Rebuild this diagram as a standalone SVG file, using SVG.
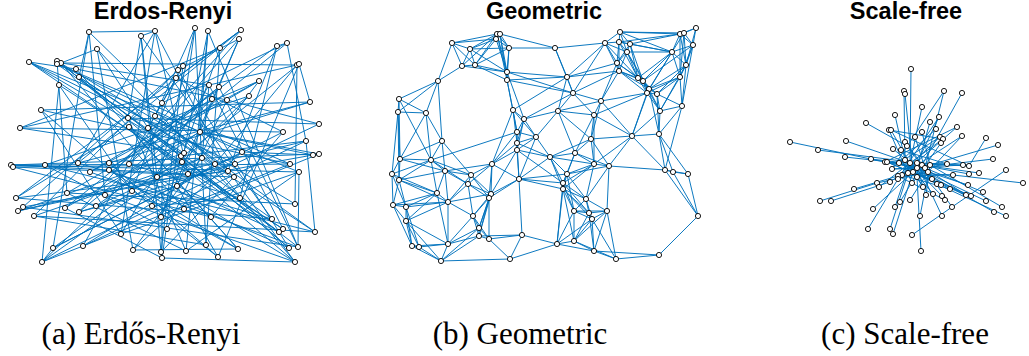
<svg xmlns="http://www.w3.org/2000/svg" width="1029" height="356" viewBox="0 0 1029 356">
<style>
.e{fill:none;stroke:#0072BD;stroke-width:0.95;stroke-linecap:round}
.n circle{fill:#fff;stroke:#000;stroke-width:0.9}
.t{font-family:"Liberation Sans",Arial,sans-serif;font-weight:bold;font-size:23.5px;text-anchor:middle;fill:#000}
.c{font-family:"Liberation Serif","Times New Roman",serif;font-size:31px;text-anchor:middle;fill:#000}
</style>
<rect width="1029" height="356" fill="#fff"/>
<g id="titles">
<text class="t" x="163" y="19">Erdos-Renyi</text>
<text class="t" x="544" y="19">Geometric</text>
<text class="t" x="906" y="19">Scale-free</text>
</g>
<g id="captions">
<text class="c" x="141" y="344">(a) Erdős-Renyi</text>
<text class="c" x="520" y="344">(b) Geometric</text>
<text class="c" x="905" y="344">(c) Scale-free</text>
</g>
<g id="connectors">
<path id="er-edges" class="e" d="M89 32L53 248M89 32L79 77M89 32L162 103M89 32L105 195M97 49L133 250M97 49L148 128M97 49L61 63M141 36L155 31M141 36L128 118M141 36L157 177M141 36L161 252M155 31L89 32M155 31L188 174M155 31L121 234M155 31L78 163M195 28L155 116M195 28L162 258M195 28L152 206M208 31L186 251M208 31L182 162M208 31L200 132M241 30L176 78M241 30L79 212M241 30L78 163M239 39L129 164M239 39L177 186M239 39L178 70M220 48L206 245M220 48L161 217M220 48L20 128M277 46L287 43M277 46L240 198M277 46L228 171M287 43L306 141M287 43L162 103M29 62L184 153M29 62L76 69M29 62L299 172M29 62L235 164M57 61L298 247M57 61L295 204M57 61L279 232M61 63L295 262M61 63L297 65M61 63L209 85M57 64L272 219M57 64L290 164M57 64L242 152M76 69L238 249M76 69L227 100M79 77L315 232M79 77L234 177M59 85L132 191M59 85L42 262M178 70L289 248M178 70L34 216M183 66L23 207M183 66L148 128M176 78L283 132M176 78L83 246M209 85L121 234M209 85L283 229M219 87L65 208M219 87L298 247M212 99L42 262M212 99L90 172M227 100L319 124M227 100L167 229M249 96L96 206M249 96L45 165M259 81L133 250M259 81L67 193M297 65L295 204M297 65L20 128M297 65L215 164M299 64L310 102M299 64L218 257M310 102L41 110M310 102L109 163M319 124L128 118M306 141L18 211M306 141L181 156M313 155L23 207M313 155L200 132M319 154L11 165M283 132L211 217M283 132L53 248M162 103L295 262M162 103L162 258M41 110L290 164M41 110L152 206M128 118L186 251M128 118L319 154M155 116L315 232M155 116L228 171M129 127L16 198M129 127L283 229M148 128L289 248M148 128L259 81M200 132L65 208M200 132L295 262M20 128L283 132M20 128L184 153M11 165L299 172M11 165L215 164M13 167L290 164M13 167L234 177M45 165L315 232M78 163L272 219M78 163L310 102M109 163L218 257M129 164L240 198M129 164L219 87M90 172L298 247M90 172L259 81M109 170L238 249M109 170L277 46M181 156L53 248M181 156L289 248M184 153L18 211M182 162L42 262M182 162L249 96M202 158L34 216M202 158L209 85M215 164L83 246M235 164L79 212M235 164L319 124M242 152L133 250M242 152L313 155M228 171L16 198M228 171L155 31M234 177L161 252M188 174L11 165M188 174L129 127M157 177L295 262M157 177L299 64M177 186L279 232M177 186L79 212M290 164L83 246M299 172L121 234M295 204L67 193M240 198L152 206M240 198L97 49M16 198L272 219M16 198L241 30M23 207L298 247M18 211L235 164M34 216L206 245M34 216L315 232M67 193L186 251M67 193L57 61M105 195L295 262M132 191L176 78M132 191L238 249M65 208L162 258M79 212L287 43M96 206L202 158M152 206L218 257M184 209L61 63M184 209L319 154M161 217L239 39M211 217L13 167M272 219L141 36M167 229L45 165M121 234L41 110M283 229L59 85M279 232L29 62M315 232L306 141M53 248L242 152M83 246L306 141M133 250L238 249M161 252L183 66M162 258L295 262M186 251L299 172M206 245L195 28M238 249L129 127M289 248L109 170M298 247L208 31M218 257L177 186M42 262L228 171M299 172L298 247M42 262L53 248M42 262L83 246"/>
<path id="geo-edges" class="e" d="M452 43L470 49M452 43L462 66M452 43L475 65M452 43L438 81M452 43L496 39M452 43L497 34M470 49L497 34M470 49L496 39M470 49L462 66M470 49L475 65M470 49L509 48M470 49L507 72M497 34L500 34M497 34L496 39M497 34L509 48M497 34L507 72M497 34L507 80M497 34L462 66M497 34L475 65M500 34L496 39M500 34L509 48M500 34L507 72M500 34L507 80M500 34L555 48M496 39L509 48M496 39L475 65M496 39L507 72M509 48L507 72M509 48L507 80M509 48L555 48M509 48L475 65M462 66L475 65M462 66L438 81M462 66L507 72M475 65L507 72M475 65L507 80M507 72L507 80M507 72L573 93M507 72L567 77M507 72L524 119M507 80L513 110M507 80L517 132M507 80L567 77M507 80L573 93M438 81L399 99M438 81L398 112M438 81L426 113M555 48L567 77M555 48L605 43M555 48L573 93M567 77L573 93M567 77L605 43M567 77L617 63M567 77L513 110M567 77L558 111M573 93L601 101M573 93L558 111M573 93L594 115M573 93L524 119M573 93L605 43M605 43L620 32M605 43L619 42M605 43L627 52M605 43L617 63M605 43L619 71M620 32L619 42M620 32L630 44M620 32L680 34M620 32L684 33M620 32L627 52M619 42L630 44M619 42L627 52M619 42L617 63M619 42L619 71M619 42L638 78M619 42L680 34M630 44L627 52M630 44L617 63M630 44L638 78M630 44L643 81M630 44L680 34M630 44L672 52M627 52L617 63M627 52L619 71M627 52L638 78M627 52L643 81M627 52L672 52M627 52L649 89M617 63L619 71M617 63L638 78M617 63L601 101M619 71L638 78M619 71L643 81M619 71L649 89M619 71L647 93M619 71L601 101M680 34L684 33M680 34L696 28M680 34L693 45M680 34L672 52M680 34L686 65M684 33L696 28M684 33L693 45M684 33L672 52M684 33L686 65M696 28L693 45M696 28L686 65M693 45L672 52M693 45L686 65M693 45L680 77M693 45L643 81M672 52L686 65M672 52L680 77M672 52L638 78M672 52L643 81M672 52L649 89M672 52L647 93M686 65L680 77M686 65L649 89M686 65L657 94M686 65L682 106M680 77L649 89M680 77L647 93M680 77L657 94M680 77L682 106M680 77L660 111M638 78L643 81M638 78L649 89M638 78L647 93M638 78L657 94M643 81L649 89M643 81L647 93M643 81L657 94M643 81L660 111M649 89L647 93M649 89L657 94M649 89L660 111M649 89L632 136M649 89L659 134M647 93L657 94M647 93L660 111M647 93L594 115M647 93L632 136M647 93L601 101M657 94L660 111M657 94L682 106M657 94L659 134M601 101L594 115M601 101L558 111M601 101L591 139M601 101L632 136M660 111L682 106M660 111L659 134M660 111L632 136M682 106L659 134M682 106L665 170M605 43L638 78M620 32L672 52M619 42L672 52M617 63L643 81M680 34L680 77M684 33L680 77M693 45L682 106M686 65L660 111M567 77L619 71M573 93L619 71M399 99L398 112M399 99L426 113M399 99L400 159M399 99L431 160M398 112L426 113M398 112L400 159M398 112L392 174M398 112L399 180M426 113L442 141M426 113L400 159M426 113L431 160M513 110L524 119M513 110L517 132M513 110L536 137M513 110L517 143M513 110L492 164M524 119L558 111M524 119L517 132M524 119L536 137M524 119L517 143M524 119L517 150M558 111L594 115M558 111L536 137M558 111L591 139M558 111L575 153M594 115L591 139M594 115L632 136M594 115L575 153M594 115L594 164M632 136L659 134M632 136L591 139M632 136L594 164M632 136L609 166M632 136L665 170M659 134L665 170M659 134L673 172M659 134L688 174M517 132L536 137M517 132L517 143M517 132L517 150M517 132L492 164M517 132L431 160M536 137L517 143M536 137L517 150M536 137L550 157M536 137L519 179M517 143L517 150M517 143L492 164M517 143L519 179M517 143L550 157M517 150L492 164M517 150L519 179M517 150L491 194M517 150L550 157M517 150L563 183M442 141L400 159M442 141L431 160M442 141L445 171M442 141L471 175M442 141L438 81M591 139L575 153M591 139L594 164M591 139L609 166M591 139L550 157M400 159L431 160M400 159L392 174M400 159L399 180M400 159L445 171M431 160L392 174M431 160L399 180M431 160L445 171M431 160L471 175M431 160L468 184M431 160L437 193M392 174L399 180M392 174L393 205M392 174L406 207M392 174L437 193M399 180L445 171M399 180L437 193M399 180L448 202M399 180L393 205M399 180L406 207M445 171L471 175M445 171L468 184M445 171L437 193M445 171L448 202M445 171L492 164M471 175L468 184M471 175L492 164M471 175L448 202M471 175L491 194M471 175L489 198M468 184L492 164M468 184L448 202M468 184L491 194M468 184L489 198M468 184L473 216M492 164L519 179M492 164L491 194M492 164L489 198M550 157L575 153M550 157L594 164M550 157L519 179M550 157L567 174M550 157L563 183M550 157L563 189M575 153L594 164M575 153L609 166M575 153L567 174M575 153L563 183M594 164L609 166M594 164L567 174M594 164L563 183M594 164L563 189M594 164L586 199M609 166L567 174M609 166L586 199M609 166L607 211M609 166L665 170M665 170L673 172M665 170L688 174M665 170L698 216M673 172L688 174M673 172L698 216M688 174L698 216M519 179L567 174M519 179L563 183M519 179L563 189M519 179L491 194M519 179L489 198M519 179L522 235M567 174L563 183M567 174L563 189M567 174L586 199M567 174L574 211M563 183L563 189M563 183L586 199M563 183L574 211M563 183L589 213M563 183L557 244M563 189L586 199M563 189L574 211M563 189L589 213M563 189L592 219M563 189L557 244M563 189L574 241M437 193L448 202M437 193L393 205M437 193L406 207M437 193L406 221M437 193L448 244M448 202L393 205M448 202L406 207M448 202L406 221M448 202L473 216M448 202L448 244M448 202L491 194M491 194L489 198M491 194L473 216M491 194L479 228M491 194L479 236M489 198L473 216M489 198L479 228M489 198L479 236M489 198L489 239M393 205L406 207M393 205L406 221M393 205L412 246M406 207L406 221M406 207L412 246M406 207L419 247M406 221L412 246M406 221L419 247M406 221L448 244M406 221L441 261M586 199L574 211M586 199L589 213M586 199L592 219M586 199L607 211M574 211L589 213M574 211L592 219M574 211L607 211M574 211L557 244M574 211L574 241M589 213L592 219M589 213L607 211M589 213L574 241M589 213L594 251M592 219L607 211M592 219L557 244M592 219L574 241M592 219L594 251M592 219L616 259M607 211L574 241M607 211L594 251M607 211L616 259M698 216L659 255M473 216L479 228M473 216L479 236M473 216L489 239M473 216L448 244M479 228L479 236M479 228L489 239M479 228L448 244M479 228L441 261M479 236L489 239M479 236L448 244M479 236L441 261M479 236L522 235M489 239L522 235M489 239L510 259M522 235L557 244M522 235L510 259M557 244L574 241M557 244L510 259M557 244L594 251M574 241L594 251M574 241L616 259M448 244L412 246M448 244L419 247M448 244L441 261M412 246L419 247M412 246L441 261M419 247L441 261M441 261L510 259M594 251L616 259M594 251L659 255M616 259L659 255"/>
<path id="sf-edges" class="e" d="M911 69L910 163M904 91L905 160M905 94L913 172M944 91L925 168M962 93L922 165M922 107L908 173M895 115L905 160M866 123L907 146M889 130L943 139M891 130L969 166M930 122L917 168M939 117L917 163M936 129L892 169M957 127L902 175M922 132L930 165M915 137L925 168M962 136L928 172M940 137L898 176M943 139L910 163M941 143L917 177M905 142L937 184M907 146L932 179M901 150L947 164M893 149L917 168M846 141L910 163M790 142L885 162M818 150L917 163M845 157L899 163M871 159L922 165M885 162L917 168M887 162L925 168M899 163L917 168M905 160L917 168M910 163L917 168M917 163L917 168M922 165L917 168M930 165L925 168M925 168L917 168M928 172L917 168M913 172L917 168M908 173L910 163M902 175L917 163M898 176L922 165M892 169L925 168M898 179L930 165M890 182L917 163M877 183L928 172M879 187L910 163M854 189L908 173M820 201L877 183M831 201L890 182M912 183L925 168M917 177L905 160M923 187L917 163M932 179L910 163M937 184L913 172M941 185L899 163M950 189L902 175M947 164L910 163M953 175L908 173M963 165L917 163M969 166L885 162M969 174L910 163M979 173L922 165M986 138L969 166M998 145L930 165M993 159L917 168M1006 170L952 207M1023 183L953 175M968 185L928 172M926 195L930 165M933 194L905 160M942 196L910 163M945 200L898 176M966 195L917 163M971 196L913 172M983 192L925 168M986 201L917 168M1002 207L930 165M994 212L917 168M1006 216L937 184M952 207L925 168M942 216L917 163M920 216L930 165M910 200L928 172M900 202L922 165M895 207L910 163M873 209L913 172M868 229L898 179M890 229L908 173M893 234L913 172M912 235L952 207M921 251L917 177M944 91L892 169M939 117L898 179M957 127L885 162M962 136L902 175M940 137L899 163M953 175L898 176M963 165L892 169M941 185L887 162M966 195L887 162M971 196L899 163M912 183L930 165M923 187L905 160M889 130L912 183M891 130L923 187"/>
</g>
<g id="er-nodes" class="n">
<g id="er0"><circle cx="89" cy="32" r="2.6"/></g>
<g id="er1"><circle cx="97" cy="49" r="2.6"/></g>
<g id="er2"><circle cx="141" cy="36" r="2.6"/></g>
<g id="er3"><circle cx="155" cy="31" r="2.6"/></g>
<g id="er4"><circle cx="195" cy="28" r="2.6"/></g>
<g id="er5"><circle cx="208" cy="31" r="2.6"/></g>
<g id="er6"><circle cx="241" cy="30" r="2.6"/></g>
<g id="er7"><circle cx="239" cy="39" r="2.6"/></g>
<g id="er8"><circle cx="220" cy="48" r="2.6"/></g>
<g id="er9"><circle cx="277" cy="46" r="2.6"/></g>
<g id="er10"><circle cx="287" cy="43" r="2.6"/></g>
<g id="er11"><circle cx="29" cy="62" r="2.6"/></g>
<g id="er12"><circle cx="57" cy="61" r="2.6"/></g>
<g id="er13"><circle cx="61" cy="63" r="2.6"/></g>
<g id="er14"><circle cx="57" cy="64" r="2.6"/></g>
<g id="er15"><circle cx="76" cy="69" r="2.6"/></g>
<g id="er16"><circle cx="79" cy="77" r="2.6"/></g>
<g id="er17"><circle cx="59" cy="85" r="2.6"/></g>
<g id="er18"><circle cx="178" cy="70" r="2.6"/></g>
<g id="er19"><circle cx="183" cy="66" r="2.6"/></g>
<g id="er20"><circle cx="176" cy="78" r="2.6"/></g>
<g id="er21"><circle cx="209" cy="85" r="2.6"/></g>
<g id="er22"><circle cx="219" cy="87" r="2.6"/></g>
<g id="er23"><circle cx="212" cy="99" r="2.6"/></g>
<g id="er24"><circle cx="227" cy="100" r="2.6"/></g>
<g id="er25"><circle cx="249" cy="96" r="2.6"/></g>
<g id="er26"><circle cx="259" cy="81" r="2.6"/></g>
<g id="er27"><circle cx="297" cy="65" r="2.6"/></g>
<g id="er28"><circle cx="299" cy="64" r="2.6"/></g>
<g id="er29"><circle cx="310" cy="102" r="2.6"/></g>
<g id="er30"><circle cx="319" cy="124" r="2.6"/></g>
<g id="er31"><circle cx="306" cy="141" r="2.6"/></g>
<g id="er32"><circle cx="313" cy="155" r="2.6"/></g>
<g id="er33"><circle cx="319" cy="154" r="2.6"/></g>
<g id="er34"><circle cx="283" cy="132" r="2.6"/></g>
<g id="er35"><circle cx="162" cy="103" r="2.6"/></g>
<g id="er36"><circle cx="41" cy="110" r="2.6"/></g>
<g id="er37"><circle cx="128" cy="118" r="2.6"/></g>
<g id="er38"><circle cx="155" cy="116" r="2.6"/></g>
<g id="er39"><circle cx="129" cy="127" r="2.6"/></g>
<g id="er40"><circle cx="148" cy="128" r="2.6"/></g>
<g id="er41"><circle cx="200" cy="132" r="2.6"/></g>
<g id="er42"><circle cx="20" cy="128" r="2.6"/></g>
<g id="er43"><circle cx="11" cy="165" r="2.6"/></g>
<g id="er44"><circle cx="13" cy="167" r="2.6"/></g>
<g id="er45"><circle cx="45" cy="165" r="2.6"/></g>
<g id="er46"><circle cx="78" cy="163" r="2.6"/></g>
<g id="er47"><circle cx="109" cy="163" r="2.6"/></g>
<g id="er48"><circle cx="129" cy="164" r="2.6"/></g>
<g id="er49"><circle cx="90" cy="172" r="2.6"/></g>
<g id="er50"><circle cx="109" cy="170" r="2.6"/></g>
<g id="er51"><circle cx="181" cy="156" r="2.6"/></g>
<g id="er52"><circle cx="184" cy="153" r="2.6"/></g>
<g id="er53"><circle cx="182" cy="162" r="2.6"/></g>
<g id="er54"><circle cx="202" cy="158" r="2.6"/></g>
<g id="er55"><circle cx="215" cy="164" r="2.6"/></g>
<g id="er56"><circle cx="235" cy="164" r="2.6"/></g>
<g id="er57"><circle cx="242" cy="152" r="2.6"/></g>
<g id="er58"><circle cx="228" cy="171" r="2.6"/></g>
<g id="er59"><circle cx="234" cy="177" r="2.6"/></g>
<g id="er60"><circle cx="188" cy="174" r="2.6"/></g>
<g id="er61"><circle cx="157" cy="177" r="2.6"/></g>
<g id="er62"><circle cx="177" cy="186" r="2.6"/></g>
<g id="er63"><circle cx="290" cy="164" r="2.6"/></g>
<g id="er64"><circle cx="299" cy="172" r="2.6"/></g>
<g id="er65"><circle cx="295" cy="204" r="2.6"/></g>
<g id="er66"><circle cx="240" cy="198" r="2.6"/></g>
<g id="er67"><circle cx="16" cy="198" r="2.6"/></g>
<g id="er68"><circle cx="23" cy="207" r="2.6"/></g>
<g id="er69"><circle cx="18" cy="211" r="2.6"/></g>
<g id="er70"><circle cx="34" cy="216" r="2.6"/></g>
<g id="er71"><circle cx="67" cy="193" r="2.6"/></g>
<g id="er72"><circle cx="105" cy="195" r="2.6"/></g>
<g id="er73"><circle cx="132" cy="191" r="2.6"/></g>
<g id="er74"><circle cx="65" cy="208" r="2.6"/></g>
<g id="er75"><circle cx="79" cy="212" r="2.6"/></g>
<g id="er76"><circle cx="96" cy="206" r="2.6"/></g>
<g id="er77"><circle cx="152" cy="206" r="2.6"/></g>
<g id="er78"><circle cx="184" cy="209" r="2.6"/></g>
<g id="er79"><circle cx="161" cy="217" r="2.6"/></g>
<g id="er80"><circle cx="211" cy="217" r="2.6"/></g>
<g id="er81"><circle cx="272" cy="219" r="2.6"/></g>
<g id="er82"><circle cx="167" cy="229" r="2.6"/></g>
<g id="er83"><circle cx="121" cy="234" r="2.6"/></g>
<g id="er84"><circle cx="283" cy="229" r="2.6"/></g>
<g id="er85"><circle cx="279" cy="232" r="2.6"/></g>
<g id="er86"><circle cx="315" cy="232" r="2.6"/></g>
<g id="er87"><circle cx="53" cy="248" r="2.6"/></g>
<g id="er88"><circle cx="83" cy="246" r="2.6"/></g>
<g id="er89"><circle cx="133" cy="250" r="2.6"/></g>
<g id="er90"><circle cx="161" cy="252" r="2.6"/></g>
<g id="er91"><circle cx="162" cy="258" r="2.6"/></g>
<g id="er92"><circle cx="186" cy="251" r="2.6"/></g>
<g id="er93"><circle cx="206" cy="245" r="2.6"/></g>
<g id="er94"><circle cx="238" cy="249" r="2.6"/></g>
<g id="er95"><circle cx="289" cy="248" r="2.6"/></g>
<g id="er96"><circle cx="298" cy="247" r="2.6"/></g>
<g id="er97"><circle cx="218" cy="257" r="2.6"/></g>
<g id="er98"><circle cx="42" cy="262" r="2.6"/></g>
<g id="er99"><circle cx="295" cy="262" r="2.6"/></g>
</g>
<g id="geo-nodes" class="n">
<g id="g0"><circle cx="452" cy="43" r="2.6"/></g>
<g id="g1"><circle cx="470" cy="49" r="2.6"/></g>
<g id="g2"><circle cx="497" cy="34" r="2.6"/></g>
<g id="g3"><circle cx="500" cy="34" r="2.6"/></g>
<g id="g4"><circle cx="496" cy="39" r="2.6"/></g>
<g id="g5"><circle cx="509" cy="48" r="2.6"/></g>
<g id="g6"><circle cx="462" cy="66" r="2.6"/></g>
<g id="g7"><circle cx="475" cy="65" r="2.6"/></g>
<g id="g8"><circle cx="507" cy="72" r="2.6"/></g>
<g id="g9"><circle cx="507" cy="80" r="2.6"/></g>
<g id="g10"><circle cx="438" cy="81" r="2.6"/></g>
<g id="g11"><circle cx="555" cy="48" r="2.6"/></g>
<g id="g12"><circle cx="567" cy="77" r="2.6"/></g>
<g id="g13"><circle cx="573" cy="93" r="2.6"/></g>
<g id="g14"><circle cx="605" cy="43" r="2.6"/></g>
<g id="g15"><circle cx="620" cy="32" r="2.6"/></g>
<g id="g16"><circle cx="619" cy="42" r="2.6"/></g>
<g id="g17"><circle cx="630" cy="44" r="2.6"/></g>
<g id="g18"><circle cx="627" cy="52" r="2.6"/></g>
<g id="g19"><circle cx="617" cy="63" r="2.6"/></g>
<g id="g20"><circle cx="619" cy="71" r="2.6"/></g>
<g id="g21"><circle cx="680" cy="34" r="2.6"/></g>
<g id="g22"><circle cx="684" cy="33" r="2.6"/></g>
<g id="g23"><circle cx="696" cy="28" r="2.6"/></g>
<g id="g24"><circle cx="693" cy="45" r="2.6"/></g>
<g id="g25"><circle cx="672" cy="52" r="2.6"/></g>
<g id="g26"><circle cx="686" cy="65" r="2.6"/></g>
<g id="g27"><circle cx="680" cy="77" r="2.6"/></g>
<g id="g28"><circle cx="638" cy="78" r="2.6"/></g>
<g id="g29"><circle cx="643" cy="81" r="2.6"/></g>
<g id="g30"><circle cx="649" cy="89" r="2.6"/></g>
<g id="g31"><circle cx="647" cy="93" r="2.6"/></g>
<g id="g32"><circle cx="657" cy="94" r="2.6"/></g>
<g id="g33"><circle cx="601" cy="101" r="2.6"/></g>
<g id="g34"><circle cx="660" cy="111" r="2.6"/></g>
<g id="g35"><circle cx="682" cy="106" r="2.6"/></g>
<g id="g36"><circle cx="399" cy="99" r="2.6"/></g>
<g id="g37"><circle cx="398" cy="112" r="2.6"/></g>
<g id="g38"><circle cx="426" cy="113" r="2.6"/></g>
<g id="g39"><circle cx="513" cy="110" r="2.6"/></g>
<g id="g40"><circle cx="524" cy="119" r="2.6"/></g>
<g id="g41"><circle cx="558" cy="111" r="2.6"/></g>
<g id="g42"><circle cx="594" cy="115" r="2.6"/></g>
<g id="g43"><circle cx="632" cy="136" r="2.6"/></g>
<g id="g44"><circle cx="659" cy="134" r="2.6"/></g>
<g id="g45"><circle cx="517" cy="132" r="2.6"/></g>
<g id="g46"><circle cx="536" cy="137" r="2.6"/></g>
<g id="g47"><circle cx="517" cy="143" r="2.6"/></g>
<g id="g48"><circle cx="517" cy="150" r="2.6"/></g>
<g id="g49"><circle cx="442" cy="141" r="2.6"/></g>
<g id="g50"><circle cx="591" cy="139" r="2.6"/></g>
<g id="g51"><circle cx="400" cy="159" r="2.6"/></g>
<g id="g52"><circle cx="431" cy="160" r="2.6"/></g>
<g id="g53"><circle cx="392" cy="174" r="2.6"/></g>
<g id="g54"><circle cx="399" cy="180" r="2.6"/></g>
<g id="g55"><circle cx="445" cy="171" r="2.6"/></g>
<g id="g56"><circle cx="471" cy="175" r="2.6"/></g>
<g id="g57"><circle cx="468" cy="184" r="2.6"/></g>
<g id="g58"><circle cx="492" cy="164" r="2.6"/></g>
<g id="g59"><circle cx="550" cy="157" r="2.6"/></g>
<g id="g60"><circle cx="575" cy="153" r="2.6"/></g>
<g id="g61"><circle cx="594" cy="164" r="2.6"/></g>
<g id="g62"><circle cx="609" cy="166" r="2.6"/></g>
<g id="g63"><circle cx="665" cy="170" r="2.6"/></g>
<g id="g64"><circle cx="673" cy="172" r="2.6"/></g>
<g id="g65"><circle cx="688" cy="174" r="2.6"/></g>
<g id="g66"><circle cx="519" cy="179" r="2.6"/></g>
<g id="g67"><circle cx="567" cy="174" r="2.6"/></g>
<g id="g68"><circle cx="563" cy="183" r="2.6"/></g>
<g id="g69"><circle cx="563" cy="189" r="2.6"/></g>
<g id="g70"><circle cx="437" cy="193" r="2.6"/></g>
<g id="g71"><circle cx="448" cy="202" r="2.6"/></g>
<g id="g72"><circle cx="491" cy="194" r="2.6"/></g>
<g id="g73"><circle cx="489" cy="198" r="2.6"/></g>
<g id="g74"><circle cx="393" cy="205" r="2.6"/></g>
<g id="g75"><circle cx="406" cy="207" r="2.6"/></g>
<g id="g76"><circle cx="406" cy="221" r="2.6"/></g>
<g id="g77"><circle cx="586" cy="199" r="2.6"/></g>
<g id="g78"><circle cx="574" cy="211" r="2.6"/></g>
<g id="g79"><circle cx="589" cy="213" r="2.6"/></g>
<g id="g80"><circle cx="592" cy="219" r="2.6"/></g>
<g id="g81"><circle cx="607" cy="211" r="2.6"/></g>
<g id="g82"><circle cx="698" cy="216" r="2.6"/></g>
<g id="g83"><circle cx="473" cy="216" r="2.6"/></g>
<g id="g84"><circle cx="479" cy="228" r="2.6"/></g>
<g id="g85"><circle cx="479" cy="236" r="2.6"/></g>
<g id="g86"><circle cx="489" cy="239" r="2.6"/></g>
<g id="g87"><circle cx="522" cy="235" r="2.6"/></g>
<g id="g88"><circle cx="557" cy="244" r="2.6"/></g>
<g id="g89"><circle cx="574" cy="241" r="2.6"/></g>
<g id="g90"><circle cx="448" cy="244" r="2.6"/></g>
<g id="g91"><circle cx="412" cy="246" r="2.6"/></g>
<g id="g92"><circle cx="419" cy="247" r="2.6"/></g>
<g id="g93"><circle cx="441" cy="261" r="2.6"/></g>
<g id="g94"><circle cx="510" cy="259" r="2.6"/></g>
<g id="g95"><circle cx="594" cy="251" r="2.6"/></g>
<g id="g96"><circle cx="616" cy="259" r="2.6"/></g>
<g id="g97"><circle cx="659" cy="255" r="2.6"/></g>
</g>
<g id="sf-nodes" class="n">
<g id="s0"><circle cx="911" cy="69" r="2.6"/></g>
<g id="s1"><circle cx="904" cy="91" r="2.6"/></g>
<g id="s2"><circle cx="905" cy="94" r="2.6"/></g>
<g id="s3"><circle cx="944" cy="91" r="2.6"/></g>
<g id="s4"><circle cx="962" cy="93" r="2.6"/></g>
<g id="s5"><circle cx="922" cy="107" r="2.6"/></g>
<g id="s6"><circle cx="895" cy="115" r="2.6"/></g>
<g id="s7"><circle cx="866" cy="123" r="2.6"/></g>
<g id="s8"><circle cx="889" cy="130" r="2.6"/></g>
<g id="s9"><circle cx="891" cy="130" r="2.6"/></g>
<g id="s10"><circle cx="930" cy="122" r="2.6"/></g>
<g id="s11"><circle cx="939" cy="117" r="2.6"/></g>
<g id="s12"><circle cx="936" cy="129" r="2.6"/></g>
<g id="s13"><circle cx="957" cy="127" r="2.6"/></g>
<g id="s14"><circle cx="922" cy="132" r="2.6"/></g>
<g id="s15"><circle cx="915" cy="137" r="2.6"/></g>
<g id="s16"><circle cx="962" cy="136" r="2.6"/></g>
<g id="s17"><circle cx="940" cy="137" r="2.6"/></g>
<g id="s18"><circle cx="943" cy="139" r="2.6"/></g>
<g id="s19"><circle cx="941" cy="143" r="2.6"/></g>
<g id="s20"><circle cx="905" cy="142" r="2.6"/></g>
<g id="s21"><circle cx="907" cy="146" r="2.6"/></g>
<g id="s22"><circle cx="901" cy="150" r="2.6"/></g>
<g id="s23"><circle cx="893" cy="149" r="2.6"/></g>
<g id="s24"><circle cx="846" cy="141" r="2.6"/></g>
<g id="s25"><circle cx="790" cy="142" r="2.6"/></g>
<g id="s26"><circle cx="818" cy="150" r="2.6"/></g>
<g id="s27"><circle cx="845" cy="157" r="2.6"/></g>
<g id="s28"><circle cx="871" cy="159" r="2.6"/></g>
<g id="s29"><circle cx="885" cy="162" r="2.6"/></g>
<g id="s30"><circle cx="887" cy="162" r="2.6"/></g>
<g id="s31"><circle cx="899" cy="163" r="2.6"/></g>
<g id="s32"><circle cx="905" cy="160" r="2.6"/></g>
<g id="s33"><circle cx="910" cy="163" r="2.6"/></g>
<g id="s34"><circle cx="917" cy="163" r="2.6"/></g>
<g id="s35"><circle cx="922" cy="165" r="2.6"/></g>
<g id="s36"><circle cx="930" cy="165" r="2.6"/></g>
<g id="s37"><circle cx="925" cy="168" r="2.6"/></g>
<g id="s38"><circle cx="928" cy="172" r="2.6"/></g>
<g id="s39"><circle cx="917" cy="168" r="2.6"/></g>
<g id="s40"><circle cx="913" cy="172" r="2.6"/></g>
<g id="s41"><circle cx="908" cy="173" r="2.6"/></g>
<g id="s42"><circle cx="902" cy="175" r="2.6"/></g>
<g id="s43"><circle cx="898" cy="176" r="2.6"/></g>
<g id="s44"><circle cx="892" cy="169" r="2.6"/></g>
<g id="s45"><circle cx="898" cy="179" r="2.6"/></g>
<g id="s46"><circle cx="890" cy="182" r="2.6"/></g>
<g id="s47"><circle cx="877" cy="183" r="2.6"/></g>
<g id="s48"><circle cx="879" cy="187" r="2.6"/></g>
<g id="s49"><circle cx="854" cy="189" r="2.6"/></g>
<g id="s50"><circle cx="820" cy="201" r="2.6"/></g>
<g id="s51"><circle cx="831" cy="201" r="2.6"/></g>
<g id="s52"><circle cx="912" cy="183" r="2.6"/></g>
<g id="s53"><circle cx="917" cy="177" r="2.6"/></g>
<g id="s54"><circle cx="923" cy="187" r="2.6"/></g>
<g id="s55"><circle cx="932" cy="179" r="2.6"/></g>
<g id="s56"><circle cx="937" cy="184" r="2.6"/></g>
<g id="s57"><circle cx="941" cy="185" r="2.6"/></g>
<g id="s58"><circle cx="950" cy="189" r="2.6"/></g>
<g id="s59"><circle cx="947" cy="164" r="2.6"/></g>
<g id="s60"><circle cx="953" cy="175" r="2.6"/></g>
<g id="s61"><circle cx="963" cy="165" r="2.6"/></g>
<g id="s62"><circle cx="969" cy="166" r="2.6"/></g>
<g id="s63"><circle cx="969" cy="174" r="2.6"/></g>
<g id="s64"><circle cx="979" cy="173" r="2.6"/></g>
<g id="s65"><circle cx="986" cy="138" r="2.6"/></g>
<g id="s66"><circle cx="998" cy="145" r="2.6"/></g>
<g id="s67"><circle cx="993" cy="159" r="2.6"/></g>
<g id="s68"><circle cx="1006" cy="170" r="2.6"/></g>
<g id="s69"><circle cx="1023" cy="183" r="2.6"/></g>
<g id="s70"><circle cx="968" cy="185" r="2.6"/></g>
<g id="s71"><circle cx="926" cy="195" r="2.6"/></g>
<g id="s72"><circle cx="933" cy="194" r="2.6"/></g>
<g id="s73"><circle cx="942" cy="196" r="2.6"/></g>
<g id="s74"><circle cx="945" cy="200" r="2.6"/></g>
<g id="s75"><circle cx="966" cy="195" r="2.6"/></g>
<g id="s76"><circle cx="971" cy="196" r="2.6"/></g>
<g id="s77"><circle cx="983" cy="192" r="2.6"/></g>
<g id="s78"><circle cx="986" cy="201" r="2.6"/></g>
<g id="s79"><circle cx="1002" cy="207" r="2.6"/></g>
<g id="s80"><circle cx="994" cy="212" r="2.6"/></g>
<g id="s81"><circle cx="1006" cy="216" r="2.6"/></g>
<g id="s82"><circle cx="952" cy="207" r="2.6"/></g>
<g id="s83"><circle cx="942" cy="216" r="2.6"/></g>
<g id="s84"><circle cx="920" cy="216" r="2.6"/></g>
<g id="s85"><circle cx="910" cy="200" r="2.6"/></g>
<g id="s86"><circle cx="900" cy="202" r="2.6"/></g>
<g id="s87"><circle cx="895" cy="207" r="2.6"/></g>
<g id="s88"><circle cx="873" cy="209" r="2.6"/></g>
<g id="s89"><circle cx="868" cy="229" r="2.6"/></g>
<g id="s90"><circle cx="890" cy="229" r="2.6"/></g>
<g id="s91"><circle cx="893" cy="234" r="2.6"/></g>
<g id="s92"><circle cx="912" cy="235" r="2.6"/></g>
<g id="s93"><circle cx="921" cy="251" r="2.6"/></g>
</g>
</svg>
